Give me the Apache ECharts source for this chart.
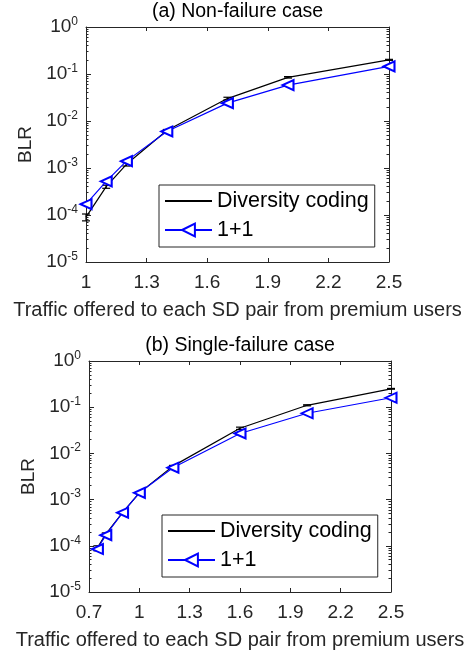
<!DOCTYPE html>
<html>
<head>
<meta charset="utf-8">
<script src="https://cdn.jsdelivr.net/npm/echarts@6/dist/echarts.min.js"></script>
<style>
html,body{margin:0;padding:0;background:#fff;}
#c{width:470px;height:656px;}
</style>
</head>
<body>
<div id="c"></div>
<script>
// ---- data ----
const titleA = '(a) Non-failure case';
const titleB = '(b) Single-failure case';
const xName = 'Traffic offered to each SD pair from premium users';
const yName = 'BLR';
const seriesNames = ['Diversity coding', '1+1'];

const xA = [1, 1.1, 1.2, 1.4, 1.7, 2.0, 2.5];
const divA = [9e-5, 4e-4, 1.2e-3, 6.3e-3, 0.03, 0.085, 0.2];
const divAlo = [7.5e-5, 3.7e-4, 1.1e-3, 6.0e-3, 0.028, 0.082, 0.195];
const divAhi = [1.05e-4, 4.3e-4, 1.3e-3, 6.6e-3, 0.032, 0.088, 0.205];
const oneA = [1.7e-4, 5.2e-4, 1.4e-3, 6.0e-3, 0.024, 0.058, 0.145];

const xB = [0.75, 0.8, 0.9, 1.0, 1.2, 1.6, 2.0, 2.5];
const divB = [9e-5, 1.8e-4, 5.2e-4, 1.4e-3, 5.3e-3, 0.035, 0.11, 0.25];
const divBlo = [7.8e-5, 1.7e-4, 5.0e-4, 1.35e-3, 5.1e-3, 0.033, 0.107, 0.245];
const divBhi = [1.0e-4, 1.9e-4, 5.4e-4, 1.45e-3, 5.5e-3, 0.037, 0.113, 0.255];
const oneB = [8.5e-5, 1.7e-4, 5.2e-4, 1.4e-3, 4.9e-3, 0.027, 0.074, 0.16];

const xTicksA = [1, 1.3, 1.6, 1.9, 2.2, 2.5];
const xTicksB = [0.7, 1, 1.3, 1.6, 1.9, 2.2, 2.5];
const yMajor = [1e-5, 1e-4, 1e-3, 1e-2, 1e-1, 1];
const yMinorMult = [2, 3, 4, 5, 6, 7, 8, 9];
const yMinorExp = [-5, -4, -3, -2, -1];

// ---- build ----
const yMinor = [];
yMinorExp.forEach(e => yMinorMult.forEach(k => yMinor.push(k * Math.pow(10, e))));

const AX = '#262626';
const FONT = 'Liberation Sans, Arial, sans-serif';
const grids = [
  {left: 86, top: 27, width: 303, height: 235},
  {left: 89, top: 361, width: 302, height: 231}
];

const xAxes = [], yAxes = [], series = [], titles = [], legends = [];

function addPanel(gi, xmin, xmax, xticks, xs, div, lo, hi, one, title, legendPos) {
  const g = grids[gi];
  titles.push({
    text: title, left: g.left + g.width / 2, top: g.top - 25, textAlign: 'center',
    padding: 0,
    textStyle: {fontFamily: FONT, fontSize: 19.5, fontWeight: 'normal', color: '#000'}
  });
  const xi = xAxes.length;
  xAxes.push({
    type: 'value', gridIndex: gi, min: xmin, max: xmax, position: 'bottom',
    name: xName, nameLocation: 'middle', nameGap: 38,
    nameTextStyle: {fontFamily: FONT, fontSize: 20, color: '#262626'},
    axisLine: {lineStyle: {color: AX, width: 1}},
    axisTick: {inside: true, length: 4, customValues: xticks, lineStyle: {color: AX}},
    axisLabel: {customValues: xticks, fontFamily: FONT, fontSize: 19, color: '#262626', margin: 11,
      formatter: v => String(Math.round(v * 10) / 10)},
    splitLine: {show: false}
  });
  xAxes.push({
    type: 'value', gridIndex: gi, min: xmin, max: xmax, position: 'top',
    axisLine: {lineStyle: {color: AX, width: 1}},
    axisTick: {inside: true, length: 4, customValues: xticks, lineStyle: {color: AX}},
    axisLabel: {show: false}, splitLine: {show: false}
  });
  const yi = yAxes.length;
  yAxes.push({
    type: 'log', logBase: 10, gridIndex: gi, min: 1e-5, max: 1, position: 'left',
    name: yName, nameLocation: 'middle', nameGap: 47, nameRotate: 90,
    nameTextStyle: {fontFamily: FONT, fontSize: 19, color: '#262626'},
    axisLine: {lineStyle: {color: AX, width: 1}},
    axisTick: {inside: true, length: 5, customValues: yMajor, lineStyle: {color: AX}},
    axisLabel: {
      customValues: yMajor, margin: 8, fontFamily: FONT, color: '#262626',
      formatter: v => '{b|10}{s|' + Math.round(Math.log10(v)) + '}',
      rich: {
        b: {fontFamily: FONT, fontSize: 19, color: '#262626'},
        s: {fontFamily: FONT, fontSize: 12, color: '#262626', padding: [0, 0, 11, 0]}
      }
    },
    splitLine: {show: false}
  });
  yAxes.push({
    type: 'log', logBase: 10, gridIndex: gi, min: 1e-5, max: 1, position: 'left',
    axisLine: {show: false},
    axisTick: {inside: true, length: 2.5, customValues: yMinor, lineStyle: {color: AX}},
    axisLabel: {show: false}, splitLine: {show: false}
  });
  yAxes.push({
    type: 'log', logBase: 10, gridIndex: gi, min: 1e-5, max: 1, position: 'right',
    axisLine: {lineStyle: {color: AX, width: 1}},
    axisTick: {inside: true, length: 5, customValues: yMajor, lineStyle: {color: AX}},
    axisLabel: {show: false}, splitLine: {show: false}
  });
  yAxes.push({
    type: 'log', logBase: 10, gridIndex: gi, min: 1e-5, max: 1, position: 'right',
    axisLine: {show: false},
    axisTick: {inside: true, length: 2.5, customValues: yMinor, lineStyle: {color: AX}},
    axisLabel: {show: false}, splitLine: {show: false}
  });

  series.push({
    name: seriesNames[0], type: 'line', xAxisIndex: xi, yAxisIndex: yi,
    data: xs.map((x, i) => [x, div[i]]), symbol: 'none',
    lineStyle: {color: '#000', width: 1.2}, itemStyle: {color: '#000'},
    animation: false, z: 3
  });
  series.push({
    type: 'custom', xAxisIndex: xi, yAxisIndex: yi,
    data: xs.map((x, i) => [x, lo[i], hi[i]]),
    renderItem: (params, api) => {
      const p1 = api.coord([api.value(0), api.value(1)]);
      const p2 = api.coord([api.value(0), api.value(2)]);
      const w = 4;
      const st = {stroke: '#000', lineWidth: 1.2};
      return {type: 'group', children: [
        {type: 'line', shape: {x1: p1[0], y1: p1[1], x2: p2[0], y2: p2[1]}, style: st},
        {type: 'line', shape: {x1: p1[0] - w, y1: p1[1], x2: p1[0] + w, y2: p1[1]}, style: st},
        {type: 'line', shape: {x1: p2[0] - w, y1: p2[1], x2: p2[0] + w, y2: p2[1]}, style: st}
      ]};
    },
    animation: false, z: 3
  });
  series.push({
    name: seriesNames[1], type: 'line', xAxisIndex: xi, yAxisIndex: yi,
    data: xs.map((x, i) => [x, one[i]]),
    symbol: 'emptyTriangle', symbolSize: [10, 11], symbolRotate: 90, showAllSymbol: true,
    lineStyle: {color: '#0000ff', width: 1.2},
    itemStyle: {color: '#0000ff', borderColor: '#0000ff', borderWidth: 1.2},
    animation: false, z: 4
  });

  legends.push({
    data: [
      {name: seriesNames[0], itemStyle: {opacity: 0}},
      {name: seriesNames[1]}
    ],
    orient: 'vertical', left: legendPos[0], top: legendPos[1],
    backgroundColor: '#fff', borderColor: '#262626', borderWidth: 1,
    padding: [5, 6, 6, 5], itemWidth: 47, itemHeight: 16, itemGap: 7,
    textStyle: {fontFamily: FONT, fontSize: 21.5, color: '#000'},
    selectedMode: false
  });
}

addPanel(0, 1, 2.5, xTicksA, xA, divA, divAlo, divAhi, oneA, titleA, [159, 185]);
addPanel(1, 0.7, 2.5, xTicksB, xB, divB, divBlo, divBhi, oneB, titleB, [162, 515]);

const chart = echarts.init(document.getElementById('c'), null, {renderer: 'canvas'});
chart.setOption({
  backgroundColor: '#fff',
  animation: false,
  title: titles,
  legend: legends,
  grid: grids,
  xAxis: xAxes,
  yAxis: yAxes,
  series: series
});
</script>
</body>
</html>
